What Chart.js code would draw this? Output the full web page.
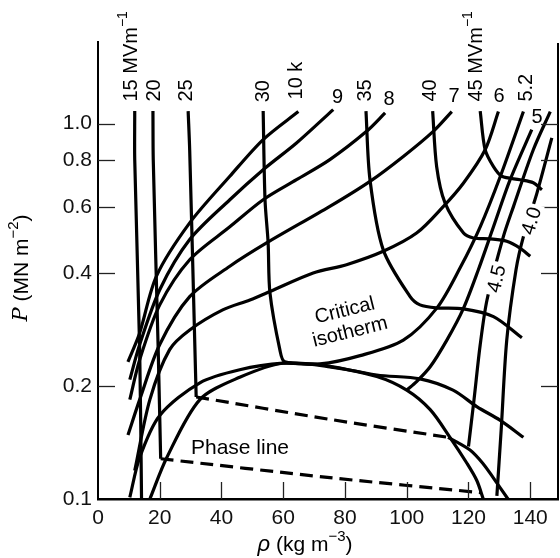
<!DOCTYPE html>
<html>
<head>
<meta charset="utf-8">
<script src="https://cdn.jsdelivr.net/npm/chart.js@4.4.1/dist/chart.umd.min.js"></script>
<style>
  body { margin: 0; background: #fff; }
  #wrap { width: 560px; height: 558px; }
</style>
</head>
<body>
<div id="wrap"><canvas id="chart"></canvas></div>
<script>
// axis ticks
const xTicks = [0, 20, 40, 60, 80, 100, 120, 140];
const yTicks = [0.1, 0.2, 0.4, 0.6, 0.8, 1.0];

// constant field lines, [rho (kg m-3), P (MN m-2)]
const e15 = [[11.9, 1.08], [11.9, 0.80], [13.5, 0.25], [14.1, 0.1]];
const e20 = [[17.8, 1.08], [17.9, 0.80], [19.5, 0.25], [20.3, 0.128]];
const e25 = [[29.2, 1.08], [29.7, 0.85], [31.4, 0.25], [31.8, 0.187]];
const e25liq = [[113.4, 0.146], [120.5, 0.135], [124.8, 0.124], [128.0, 0.114], [132.8, 0.1]];
const e30 = [[53.5, 1.08], [54.1, 0.627], [55.1, 0.482], [55.7, 0.354], [58.9, 0.25], [60.5, 0.232],
             [71.9, 0.228], [90.3, 0.214], [104.3, 0.209], [115.0, 0.195], [122.8, 0.176], [130.3, 0.162], [137.8, 0.146]];
const e35 = [[86.8, 1.08], [88.1, 0.709], [92.4, 0.461], [101.1, 0.346], [104.3, 0.329], [109.7, 0.323],
             [118.4, 0.321], [128.1, 0.306], [137.3, 0.269]];
const e40 = [[108.4, 1.08], [109.7, 0.768], [112.4, 0.615], [118.4, 0.511], [121.6, 0.496], [127.0, 0.493],
             [132.4, 0.486], [136.7, 0.466], [140.0, 0.443]];
const e45 = [[123.8, 1.08], [125.4, 0.852], [128.1, 0.768], [130.8, 0.724], [136.7, 0.709], [141.0, 0.696], [143.8, 0.667]];

// phase lines (dashed)
const phaseHigh = [[31.8, 0.187], [75.1, 0.163], [113.4, 0.146]];
const phaseLow = [[20.3, 0.128], [75.1, 0.114], [123.8, 0.104]];

// isotherms (K)
const t10 = [[64.9, 1.077], [53.5, 0.907], [42.7, 0.724], [29.7, 0.544], [18.9, 0.392], [13.5, 0.277], [9.7, 0.232]];
const t9 = [[76.2, 1.09], [64.3, 0.888], [53.5, 0.754], [42.7, 0.627], [29.7, 0.491], [20.0, 0.361], [13.5, 0.258], [10.3, 0.208]];
const t8 = [[93.0, 1.068], [87.0, 0.954], [75.1, 0.802], [64.3, 0.709], [53.5, 0.627], [42.7, 0.531], [29.7, 0.434],
            [20.0, 0.329], [13.5, 0.235], [10.3, 0.184]];
const t7 = [[114.6, 1.077], [108.6, 0.954], [98.9, 0.818], [88.1, 0.702], [75.1, 0.602], [54.6, 0.481], [42.7, 0.417],
            [29.7, 0.346], [20.0, 0.258], [13.5, 0.184], [9.7, 0.148]];
const t6 = [[129.7, 1.077], [125.4, 0.852], [118.4, 0.695], [111.9, 0.602], [103.2, 0.511], [92.4, 0.457], [80.5, 0.421],
            [69.7, 0.400], [55.7, 0.357], [49.2, 0.339], [40.4, 0.319], [29.7, 0.282], [23.2, 0.25], [16.8, 0.184], [11.9, 0.119]];
const tCrit = [[10.3, 0.101], [13.5, 0.129], [20.0, 0.167], [33.0, 0.204], [45.9, 0.221], [59.9, 0.230], [71.9, 0.229],
               [84.9, 0.241], [98.9, 0.265], [109.8, 0.323], [117.3, 0.413], [123.8, 0.531], [130.3, 0.723], [137.8, 1.077]];
const t5 = [[100.0, 0.195], [103.2, 0.2055], [107.6, 0.225], [113.0, 0.265], [118.3, 0.321], [123.2, 0.408],
            [128.1, 0.531], [133.5, 0.709], [140.5, 0.964]];
const t45 = [[120.0, 0.138], [121.8, 0.184], [123.8, 0.2575], [126.0, 0.339], [131.3, 0.500], [134.6, 0.602],
             [141.0, 0.852], [146.5, 1.077]];
const t40 = [[129.2, 0.102], [130.6, 0.153], [132.4, 0.265], [135.4, 0.408], [137.8, 0.500], [142.2, 0.654], [147.0, 0.916]];

// coexistence curve
const dome = [[16.8, 0.1], [22.3, 0.129], [33.0, 0.184], [45.9, 0.211], [59.9, 0.230], [75.1, 0.225], [90.3, 0.212],
              [100.0, 0.195], [107.6, 0.173], [114.0, 0.146], [119.5, 0.1245], [122.7, 0.112], [124.8, 0.1]];

// curve labels: text, rho, P, rotation (deg), superscript
const curveLabels = [
  ['15 MVm', 10.8, 1.145, -90, '−1'], ['20', 18.4, 1.145, -90], ['25', 28.8, 1.145, -90], ['30', 53.6, 1.14, -90],
  ['10 k', 64.4, 1.16, -90], ['35', 86.5, 1.145, -90], ['40', 107.7, 1.145, -90], ['45 MVm', 122.6, 1.145, -90, '−1'],
  ['5.2', 138.8, 1.145, -90]
];
const plainLabels = [['9', 77.6, 1.177], ['8', 94.3, 1.162], ['7', 115.3, 1.184], ['6', 129.9, 1.184], ['5', 142.2, 1.041]];
const lineLabels = [['4.5', 129.0, 0.386, -77], ['4.0', 140.3, 0.551, -73]];

const FONT = '"Liberation Sans", Arial, sans-serif';

function toPts(arr) { return arr.map(p => ({ x: p[0], y: p[1] })); }
function curve(arr, dashed) {
  return {
    data: toPts(arr), showLine: true, pointRadius: 0, borderColor: '#000', borderWidth: 3.2,
    tension: 0.3, borderDash: dashed ? [13, 7] : [], fill: false, borderCapStyle: 'butt'
  };
}

const solid = [e15, e20, e25, e25liq, e30, e35, e40, e45, t10, t9, t8, t7, t6, tCrit, t5, t45, t40, dome];
const datasets = solid.map(a => curve(a, false));
datasets.push(curve(phaseHigh, true), curve(phaseLow, true));

function richText(ctx, parts, x, y, align) {
  let w = 0;
  parts.forEach(p => { ctx.font = p.font; w += ctx.measureText(p.t).width; });
  let cx = align === 'center' ? x - w / 2 : x;
  parts.forEach(p => {
    ctx.font = p.font;
    ctx.fillText(p.t, cx, y + (p.dy || 0));
    cx += ctx.measureText(p.t).width;
  });
}

const decor = {
  id: 'decor',
  afterDraw(chart) {
    const ctx = chart.ctx, a = chart.chartArea;
    const xs = chart.scales.x, ys = chart.scales.y;
    ctx.save();
    // right border
    ctx.strokeStyle = '#000';
    ctx.lineWidth = 2;
    ctx.beginPath(); ctx.moveTo(a.right, a.top + 1); ctx.lineTo(a.right, a.bottom); ctx.stroke();
    // inward ticks
    ctx.lineWidth = 1.3;
    ctx.strokeStyle = '#222';
    xTicks.slice(1).forEach(v => {
      const px = Math.round(xs.getPixelForValue(v)) + 0.5;
      ctx.beginPath(); ctx.moveTo(px, a.bottom); ctx.lineTo(px, a.bottom - 17); ctx.stroke();
    });
    yTicks.slice(1).forEach(v => {
      const py = Math.round(ys.getPixelForValue(v)) + 0.5;
      ctx.beginPath(); ctx.moveTo(a.left, py); ctx.lineTo(a.left + 17, py); ctx.stroke();
      ctx.beginPath(); ctx.moveTo(a.right, py); ctx.lineTo(a.right - 17, py); ctx.stroke();
    });
    // curve labels
    ctx.fillStyle = '#000';
    ctx.textBaseline = 'middle';
    curveLabels.forEach(l => {
      const px = xs.getPixelForValue(l[1]), py = ys.getPixelForValue(l[2]);
      ctx.save();
      ctx.translate(px, py);
      ctx.rotate(l[3] * Math.PI / 180);
      const parts = [{ t: l[0], font: '20px ' + FONT }];
      if (l[4]) parts.push({ t: l[4], font: '14px ' + FONT, dy: -8 });
      richText(ctx, parts, 0, 0, 'left');
      ctx.restore();
    });
    ctx.textAlign = 'center';
    ctx.font = '20px ' + FONT;
    plainLabels.forEach(l => {
      ctx.fillText(l[0], xs.getPixelForValue(l[1]), ys.getPixelForValue(l[2]));
    });
    lineLabels.forEach(l => {
      const px = xs.getPixelForValue(l[1]), py = ys.getPixelForValue(l[2]);
      ctx.save();
      ctx.translate(px, py);
      ctx.rotate(l[3] * Math.PI / 180);
      ctx.fillStyle = '#fff';
      ctx.fillRect(-17, -9, 34, 18);
      ctx.fillStyle = '#000';
      ctx.fillText(l[0], 0, 1);
      ctx.restore();
    });
    // text annotations
    ctx.font = '21px ' + FONT;
    ctx.fillText('Phase line', xs.getPixelForValue(46.0), ys.getPixelForValue(0.1368));
    ctx.save();
    ctx.translate(xs.getPixelForValue(80.8), ys.getPixelForValue(0.297));
    ctx.rotate(-14 * Math.PI / 180);
    ctx.font = '20px ' + FONT;
    ctx.fillText('Critical', 0, -11);
    ctx.fillText('isotherm', 0, 11);
    ctx.restore();
    // axis titles
    ctx.textAlign = 'left';
    richText(ctx, [
      { t: 'ρ', font: 'italic 22px ' + FONT },
      { t: ' (kg m', font: '21px ' + FONT },
      { t: '−3', font: '15px ' + FONT, dy: -8 },
      { t: ')', font: '21px ' + FONT }
    ], 305, 545, 'center');
    ctx.save();
    ctx.translate(22, 268);
    ctx.rotate(-Math.PI / 2);
    richText(ctx, [
      { t: 'P', font: 'italic 21px "DejaVu Serif", serif' },
      { t: ' (MN m', font: '21px ' + FONT },
      { t: '−2', font: '15px ' + FONT, dy: -8 },
      { t: ')', font: '21px ' + FONT }
    ], 0, 0, 'center');
    ctx.restore();
    ctx.restore();
  }
};

new Chart(document.getElementById('chart'), {
  type: 'scatter',
  data: { datasets },
  options: {
    responsive: true,
    maintainAspectRatio: false,
    animation: false,
    layout: { padding: { left: 0, right: 2, top: 42, bottom: 0 } },
    plugins: { legend: { display: false }, tooltip: { enabled: false } },
    scales: {
      x: {
        type: 'linear', min: 0, max: 149,
        afterBuildTicks: s => { s.ticks = xTicks.map(v => ({ value: v })); },
        afterFit: s => { s.height = 59; },
        grid: { display: true, drawOnChartArea: false, drawTicks: false },
        border: { display: true, color: '#000', width: 2.5 },
        ticks: { color: '#111', padding: 7, font: { size: 21, family: FONT } }
      },
      y: {
        type: 'logarithmic', min: 0.1, max: 1.65,
        afterBuildTicks: s => { s.ticks = yTicks.map(v => ({ value: v })); },
        afterFit: s => { s.width = 98; },
        grid: { display: true, drawOnChartArea: false, drawTicks: false },
        border: { display: true, color: '#000', width: 2 },
        ticks: { color: '#111', padding: 6, font: { size: 21, family: FONT }, callback: v => Number(v).toFixed(1) }
      }
    }
  },
  plugins: [decor]
});
</script>
</body>
</html>
